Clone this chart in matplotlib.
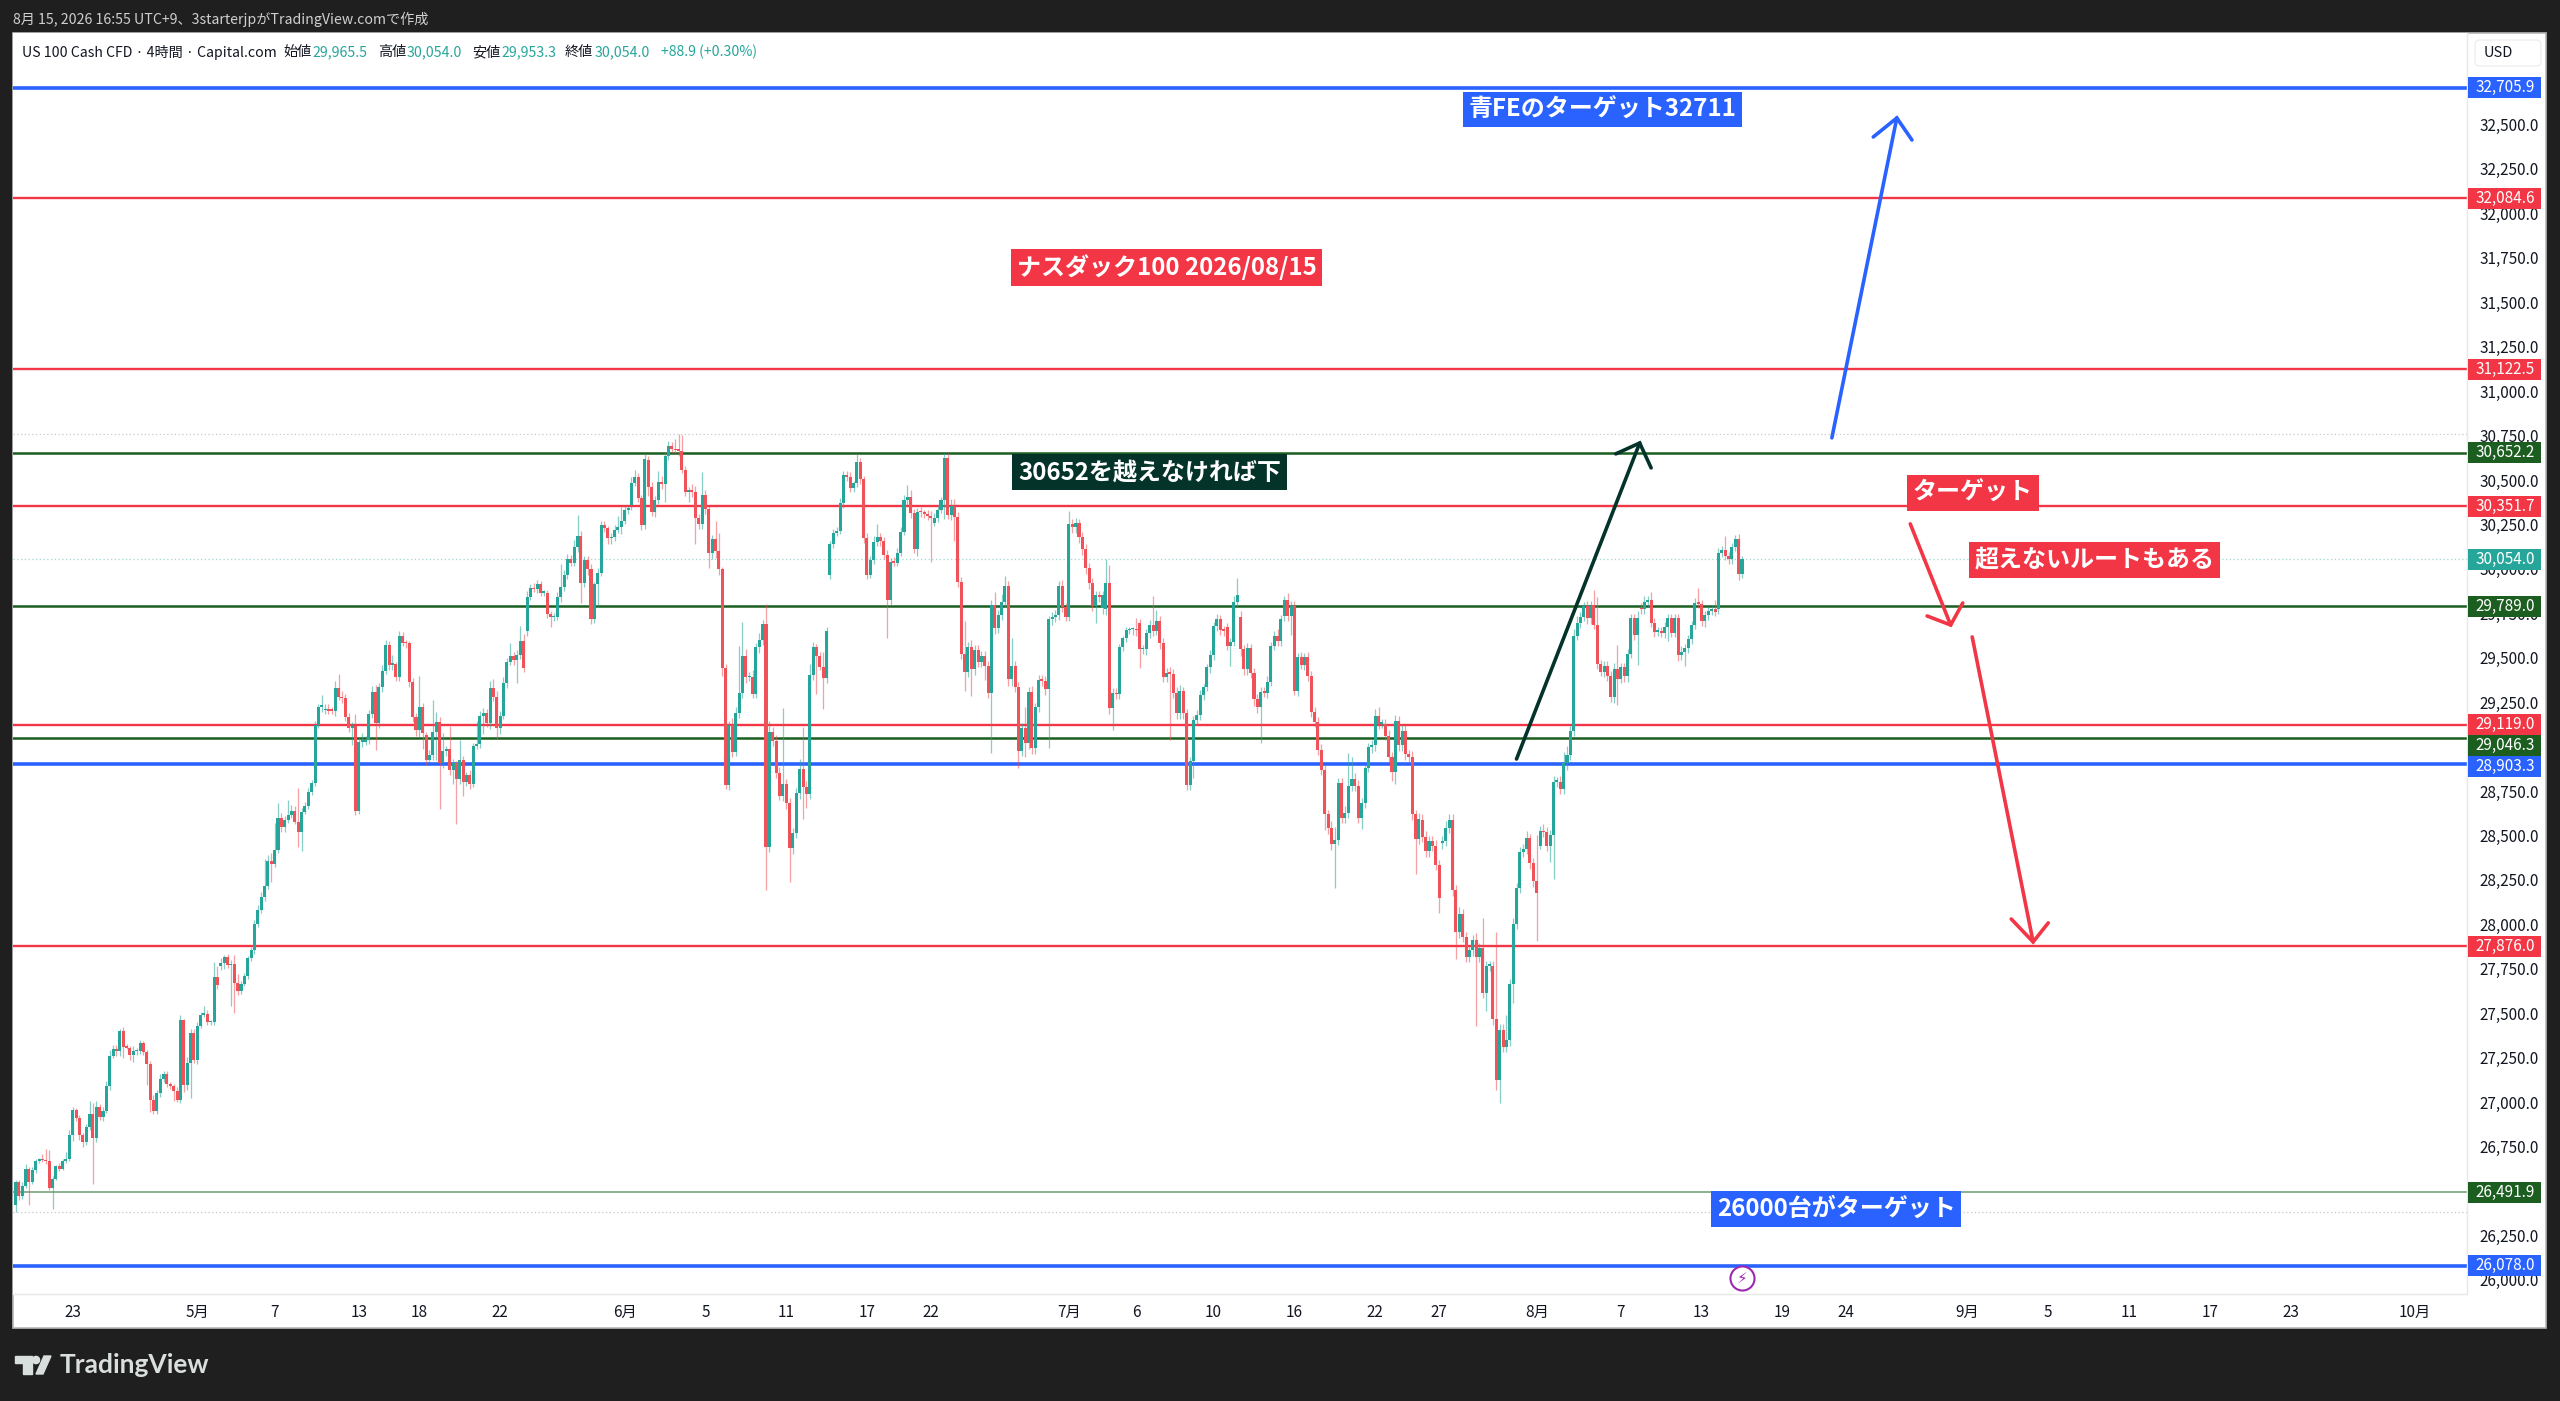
import matplotlib
matplotlib.use('Agg')
from matplotlib import pyplot as plt
from matplotlib.patches import Rectangle, FancyBboxPatch, Polygon, Circle
import numpy as np

plt.rcParams['font.family'] = ['Noto Sans CJK JP', 'DejaVu Sans']

BG = '#1f1f1f'
UP = '#26a69a'
DOWN = '#f0525a'
RED = '#f23645'
BLUE = '#2962ff'
GREEN = '#1b5e20'
DARK = '#04332a'

# 4h closes
closes = [
    26549, 26470, 26529, 26622, 26549, 26618, 26668, 26677, 26673, 26668,
    26515, 26569, 26638, 26626, 26668, 26677, 26812, 26954, 26911, 26812,
    26776, 26859, 26934, 26796, 26974, 26915, 26950, 27093, 27261, 27300,
    27290, 27399, 27310, 27306, 27267, 27287, 27287, 27330, 27281, 27215,
    27014, 26950, 27049, 27128, 27160, 27103, 27089, 27063, 27014, 27459,
    27097, 27221, 27389, 27235, 27429, 27492, 27498, 27449, 27449, 27706,
    27656, 27781, 27815, 27769, 27775, 27670, 27623, 27666, 27710, 27809,
    27854, 28003, 28078, 28151, 28216, 28359, 28340, 28419, 28597, 28546,
    28587, 28616, 28640, 28578, 28522, 28634, 28666, 28747, 28797, 29122,
    29225, 29229, 29210, 29203, 29201, 29328, 29281, 29272, 29169, 29103,
    29116, 28640, 29028, 29028, 29035, 29184, 29309, 29131, 29338, 29428,
    29572, 29460, 29463, 29390, 29623, 29585, 29581, 29366, 29169, 29094,
    29225, 29075, 28925, 28953, 29084, 29141, 28906, 28976, 28985, 28869,
    28906, 28816, 28925, 28803, 28841, 28790, 29004, 29015, 29173, 29188,
    29131, 29328, 29281, 29103, 29173, 29360, 29478, 29510, 29488, 29516,
    29596, 29441, 29844, 29891, 29885, 29915, 29866, 29866, 29746, 29728,
    29731, 29844, 29896, 29966, 30054, 30035, 30122, 30185, 29919, 30050,
    29998, 29716, 29913, 29979, 30247, 30228, 30172, 30180, 30219, 30238,
    30272, 30332, 30335, 30485, 30515, 30397, 30247, 30617, 30463, 30322,
    30388, 30491, 30478, 30635, 30692, 30673, 30669, 30665, 30557, 30435,
    30440, 30435, 30285, 30253, 30416, 30335, 30088, 30167, 30103, 29998,
    29441, 28784, 29122, 28972, 29191, 29304, 29510, 29390, 29390, 29296,
    29559, 29600, 29690, 28437, 29084, 29034, 28854, 28722, 28790, 28681,
    28428, 28512, 28737, 28872, 28775, 28734, 29403, 29559, 29510, 29450,
    29384, 29651, 30140, 30204, 30215, 30369, 30529, 30519, 30453, 30482,
    30604, 30504, 30172, 29966, 30050, 30153, 30178, 30159, 30078, 29825,
    30041, 30035, 30092, 30210, 30388, 30403, 30317, 30110, 30322, 30318,
    30309, 30300, 30285, 30285, 30332, 30388, 30622, 30303, 30354, 30294,
    29928, 29521, 29422, 29559, 29435, 29544, 29478, 29510, 29454, 29304,
    29797, 29666, 29741, 29816, 29904, 29379, 29454, 29338, 28977, 29103,
    29019, 29309, 28991, 29225, 29375, 29371, 29323, 29716, 29731, 29741,
    29906, 29788, 29731, 30253, 30234, 30257, 30178, 30110, 30003, 29919,
    29791, 29853, 29844, 29853, 29923, 29216, 29304, 29296, 29559, 29610,
    29656, 29660, 29660, 29655, 29548, 29548, 29638, 29685, 29653, 29709,
    29581, 29394, 29416, 29409, 29304, 29188, 29315, 29188, 28784, 28921,
    29150, 29178, 29289, 29338, 29446, 29516, 29679, 29716, 29656, 29653,
    29566, 29591, 29816, 29853, 29548, 29435, 29553, 29416, 29266, 29221,
    29309, 29304, 29366, 29566, 29623, 29596, 29716, 29822, 29735, 29790,
    29313, 29504, 29459, 29504, 29396, 29195, 29138, 28982, 28869, 28618,
    28540, 28450, 28475, 28794, 28601, 28626, 28776, 28819, 28781, 28601,
    28681, 28882, 28995, 29007, 29170, 29128, 29128, 29062, 28944, 28857,
    29145, 29007, 29090, 28957, 28944, 28618, 28480, 28594, 28493, 28410,
    28468, 28443, 28335, 28149, 28468, 28543, 28588, 28192, 27954, 28059,
    27929, 27816, 27854, 27909, 27816, 27866, 27615, 27766, 27766, 27465,
    27126, 27407, 27309, 27347, 27665, 28004, 28205, 28405, 28425, 28485,
    28343, 28242, 28175, 28526, 28518, 28443, 28500, 28802, 28802, 28762,
    28907, 28952, 29087, 29622, 29697, 29729, 29790, 29722, 29790, 29684,
    29464, 29421, 29454, 29396, 29278, 29439, 29383, 29446, 29396, 29521,
    29722, 29627, 29722, 29772, 29815, 29822, 29697, 29647, 29647, 29640,
    29672, 29722, 29639, 29722, 29514, 29534, 29554, 29604, 29684, 29810,
    29805, 29704, 29739, 29765, 29772, 29760, 30091, 30106, 30073, 30055,
    30123, 30166, 29973, 30054,
]

# bars that open away from the previous close (bar number: open)
gap_opens = {
    0: 26420, 61: 27765, 92: 29206, 122: 29066, 152: 29653, 183: 30360,
    188: 30613, 242: 29966, 273: 30260, 323: 29778, 324: 29773, 334: 29694,
    360: 29671, 364: 29731, 377: 29735, 417: 28480, 418: 28588, 424: 28455,
    453: 28443, 469: 29797, 483: 29780, 490: 29640, 506: 29772,
}

# wick lengths above the body, in index points
upper_wicks = [
    10, 15, 20, 30, 10, 15, 10, 10, 30, 65, 60, 15, 10, 20, 10, 40, 30, 20, 10, 15,
    15, 20, 70, 60, 30, 15, 20, 25, 30, 20, 20, 10, 25, 15, 10, 30, 15, 20, 15, 10,
    15, 25, 20, 30, 15, 15, 10, 10, 20, 30, 10, 30, 20, 20, 20, 15, 40, 20, 10, 80,
    60, 30, 15, 20, 25, 50, 50, 15, 15, 15, 20, 20, 30, 30, 150, 30, 40, 150, 85, 30,
    20, 85, 30, 25, 190, 20, 25, 20, 15, 20, 15, 60, 30, 30, 20, 40, 80, 30, 25, 20,
    25, 70, 20, 50, 25, 20, 30, 40, 20, 30, 25, 20, 50, 15, 30, 20, 15, 15, 20, 20,
    170, 20, 15, 25, 180, 55, 25, 100, 20, 130, 25, 15, 110, 20, 15, 25, 15, 130, 25, 30,
    25, 40, 55, 30, 25, 30, 20, 75, 25, 30, 80, 40, 30, 25, 30, 20, 15, 15, 15, 15,
    20, 25, 130, 30, 30, 25, 40, 120, 30, 25, 20, 30, 15, 25, 20, 20, 15, 20, 30, 60,
    75, 30, 20, 30, 40, 25, 20, 30, 20, 25, 20, 60, 30, 25, 30, 20, 60, 90, 90, 20,
    20, 40, 30, 25, 130, 30, 20, 25, 100, 100, 15, 25, 20, 40, 30, 260, 190, 40, 30, 40,
    25, 40, 20, 110, 60, 25, 30, 30, 425, 25, 30, 30, 30, 60, 240, 30, 60, 30, 20, 25,
    85, 20, 15, 20, 20, 30, 20, 20, 25, 15, 45, 20, 20, 30, 20, 30, 75, 25, 20, 30,
    20, 25, 25, 25, 30, 70, 40, 20, 20, 25, 15, 20, 25, 30, 30, 15, 30, 30, 40, 40,
    25, 25, 185, 30, 40, 25, 30, 30, 30, 30, 30, 70, 30, 40, 55, 25, 155, 30, 25, 30,
    120, 25, 30, 20, 30, 30, 25, 20, 25, 30, 25, 30, 20, 70, 25, 30, 25, 30, 30, 30,
    30, 25, 25, 25, 130, 100, 25, 25, 20, 15, 15, 15, 15, 65, 25, 25, 25, 30, 160, 60,
    25, 30, 25, 30, 25, 30, 30, 20, 25, 20, 20, 30, 30, 15, 20, 30, 20, 30, 25, 20,
    25, 20, 30, 95, 30, 25, 30, 25, 25, 30, 25, 25, 30, 25, 25, 40, 25, 25, 40, 30,
    30, 25, 30, 25, 30, 30, 25, 30, 30, 30, 25, 40, 75, 30, 30, 40, 190, 125, 30, 30,
    30, 25, 25, 30, 40, 50, 25, 25, 30, 25, 30, 25, 30, 30, 25, 30, 25, 30, 30, 30,
    30, 30, 30, 25, 30, 40, 30, 30, 30, 40, 30, 30, 30, 30, 40, 30, 170, 30, 30, 30,
    490, 30, 30, 145, 30, 30, 25, 30, 25, 40, 25, 30, 260, 30, 40, 30, 30, 30, 25, 30,
    60, 50, 30, 40, 40, 30, 25, 30, 30, 85, 160, 25, 25, 25, 30, 30, 130, 25, 25, 30,
    25, 25, 40, 30, 30, 25, 50, 25, 25, 25, 30, 25, 25, 25, 25, 30, 25, 25, 25, 25,
    80, 20, 25, 25, 25, 50, 25, 25, 80, 20, 20, 25, 30, 20,
]

# wick lengths below the body, in index points
lower_wicks = [
    40, 20, 15, 10, 130, 10, 15, 10, 10, 15, 10, 115, 10, 15, 10, 10, 10, 30, 20, 25,
    30, 20, 15, 255, 20, 15, 20, 10, 25, 15, 30, 30, 60, 10, 30, 40, 20, 15, 15, 120,
    70, 15, 20, 20, 15, 20, 15, 55, 15, 20, 40, 30, 200, 15, 20, 15, 15, 15, 15, 15,
    20, 20, 30, 15, 230, 170, 20, 15, 15, 15, 15, 20, 20, 15, 20, 15, 100, 15, 15, 25,
    25, 15, 15, 15, 85, 110, 15, 15, 20, 20, 15, 30, 20, 20, 20, 30, 20, 25, 25, 20,
    95, 25, 20, 30, 20, 20, 25, 150, 25, 30, 20, 30, 30, 20, 20, 20, 25, 30, 30, 35,
    40, 90, 30, 20, 30, 160, 255, 25, 30, 30, 80, 250, 25, 80, 25, 30, 20, 20, 25, 100,
    20, 30, 25, 60, 30, 20, 30, 20, 30, 130, 25, 20, 30, 20, 15, 20, 20, 20, 20, 55,
    20, 20, 30, 20, 25, 20, 20, 25, 110, 20, 30, 25, 20, 125, 20, 20, 30, 30, 25, 20,
    40, 20, 25, 30, 20, 20, 30, 20, 55, 25, 30, 25, 30, 100, 25, 20, 25, 30, 20, 25,
    60, 30, 145, 30, 30, 25, 85, 30, 40, 30, 45, 25, 30, 30, 25, 30, 30, 30, 20, 25,
    25, 30, 30, 245, 30, 30, 30, 25, 30, 30, 190, 30, 25, 30, 185, 80, 30, 30, 215, 20,
    175, 25, 25, 20, 20, 20, 25, 25, 20, 20, 20, 25, 25, 25, 20, 20, 25, 30, 25, 215,
    30, 20, 20, 20, 20, 30, 30, 20, 40, 25, 25, 25, 245, 20, 20, 20, 105, 25, 30, 140,
    30, 30, 110, 30, 150, 30, 30, 30, 80, 30, 340, 30, 25, 30, 30, 40, 40, 30, 100, 30,
    75, 30, 30, 30, 30, 30, 30, 330, 30, 30, 30, 30, 25, 25, 30, 30, 30, 30, 30, 30,
    30, 95, 30, 30, 30, 30, 120, 30, 30, 20, 20, 20, 30, 30, 105, 25, 30, 25, 30, 25,
    30, 30, 30, 370, 30, 30, 30, 30, 30, 30, 95, 30, 30, 25, 25, 30, 30, 30, 30, 30,
    25, 110, 25, 30, 40, 30, 30, 30, 40, 30, 200, 25, 30, 25, 25, 30, 30, 30, 30, 105,
    25, 30, 25, 30, 25, 30, 30, 30, 30, 85, 30, 30, 245, 30, 30, 30, 30, 25, 30, 30,
    65, 25, 25, 30, 30, 30, 25, 25, 30, 50, 70, 30, 30, 30, 30, 30, 195, 30, 30, 30,
    30, 30, 30, 85, 30, 30, 30, 30, 150, 30, 30, 30, 30, 30, 390, 30, 30, 100, 30, 30,
    60, 130, 30, 30, 30, 110, 30, 30, 25, 30, 30, 30, 270, 20, 25, 30, 90, 245, 30, 30,
    30, 40, 25, 25, 25, 30, 25, 30, 30, 25, 30, 25, 30, 25, 25, 30, 150, 25, 30, 30,
    25, 25, 170, 25, 25, 30, 25, 30, 25, 25, 30, 80, 25, 25, 30, 25, 80, 25, 25, 25,
    25, 25, 30, 25, 25, 25, 25, 25, 25, 25, 25, 25, 38, 25,
]

tick_bars = [17, 54, 77, 102, 120, 144, 181, 205, 229, 253, 272, 313, 333, 356,
             380, 404, 423, 452, 477, 501, 525, 544, 580, 604, 628, 652, 676, 713]
tick_labels = ['23', '5月', '7', '13', '18', '22', '6月', '5', '11', '17', '22', '7月',
               '6', '10', '16', '22', '27', '8月', '7', '13', '19', '24', '9月', '5',
               '11', '17', '23', '10月']
price_ticks = list(range(26000, 32750, 250))

red_levels = [32084.6, 31122.5, 30351.7, 29119.0, 27876.0]
green_levels = [30652.2, 29789.0, 29046.3]
thin_green_levels = [26491.9]
blue_levels = [32705.9, 28903.3, 26078.0]
dotted_levels = [30760, 26382]
last_price = 30054.0

note_texts = ['青FEのターゲット32711', 'ナスダック100 2026/08/15', '30652を越えなければ下',
              'ターゲット', '超えないルートもある', '26000台がターゲット']
note_bars = [471.5, 342, 337, 581.6, 617.7, 541]
note_prices = [32585, 31696, 30545, 30427, 30050, 26399]
note_colors = [BLUE, RED, DARK, RED, RED, BLUE]

# hand drawn arrows: shaft from/to, then the two barbs, as (bar, price)
arrows = [
    (DARK, (446, 28930), (482.6, 30708), (475.5, 30647), (486, 30568)),
    (BLUE, (539.7, 30737), (559, 32537), (552, 32430), (563.5, 32413)),
    (RED, (563, 30253), (575, 29684), (568, 29735), (578.6, 29808)),
    (RED, (581.4, 29617), (599.5, 27901), (593, 28030), (604, 28008)),
]

W, H = 2560, 1401
fig = plt.figure(figsize=(W / 100, H / 100), dpi=100, facecolor=BG)


def fx(x):
    return x / W


def fy(y):
    return 1 - y / H


# page layer: white chart card, USD box, logo
page = fig.add_axes([0, 0, 1, 1], zorder=0)
page.set_xlim(0, W)
page.set_ylim(H, 0)
page.axis('off')
page.add_patch(Rectangle((13, 33), 2533, 1295, facecolor='white', edgecolor='#b8b8b8', lw=1.2))
page.add_patch(FancyBboxPatch((2475, 40), 66, 26, boxstyle='round,pad=0,rounding_size=5',
                              facecolor='white', edgecolor='#eeeeee', lw=1))
logo = '#d9dfdc'
page.add_patch(Polygon([(15, 1356), (32, 1356), (32, 1374), (23, 1374), (23, 1363), (15, 1363)], color=logo))
page.add_patch(Circle((36, 1360), 3.6, color=logo))
page.add_patch(Polygon([(44, 1356), (51, 1356), (43, 1374), (36, 1374)], color=logo))

# chart
ax = fig.add_axes([fx(13), fy(1294), (2467 - 13) / W, (1294 - 33) / H], zorder=1, facecolor='white')
bar_step = (1742 - 15.5) / (len(closes) - 1)
ax.set_xlim((13 - 15.5) / bar_step, (2467 - 15.5) / bar_step)
ax.set_ylim(25920, 33015)

closes_arr = np.array(closes, dtype=float)
opens_arr = np.r_[closes_arr[0], closes_arr[:-1]]
for bar, value in gap_opens.items():
    opens_arr[bar] = value
tops = np.maximum(opens_arr, closes_arr)
bottoms = np.minimum(opens_arr, closes_arr)
highs = tops + np.array(upper_wicks)
lows = bottoms - np.array(lower_wicks)
colors = [UP if c >= o else DOWN for o, c in zip(opens_arr, closes_arr)]
xs = np.arange(len(closes))

for level in dotted_levels:
    ax.axhline(level, color='#c4c8cc', lw=0.9, ls=(0, (1, 2)), zorder=1)
ax.axhline(last_price, color='#9fd8d2', lw=0.9, ls=(0, (1, 2)), zorder=1)
for level in thin_green_levels:
    ax.axhline(level, color='#6f9b74', lw=1.1, zorder=2)
for level in red_levels:
    ax.axhline(level, color=RED, lw=1.7, zorder=2)
for level in green_levels:
    ax.axhline(level, color=GREEN, lw=1.8, zorder=2)
for level in blue_levels:
    ax.axhline(level, color=BLUE, lw=2.6, zorder=2)

ax.vlines(xs, lows, highs, colors=colors, lw=0.9, alpha=0.55, zorder=3)
ax.bar(xs, np.maximum(tops - bottoms, 8), bottom=bottoms, width=0.9, color=colors, lw=0, zorder=4)

for color, start, tip, barb1, barb2 in arrows:
    ax.plot(*zip(start, tip), color=color, lw=2.6, solid_capstyle='round', zorder=5)
    ax.plot(*zip(barb1, tip, barb2), color=color, lw=2.6, solid_capstyle='round',
            solid_joinstyle='miter', zorder=5)

for text, bar, price, color in zip(note_texts, note_bars, note_prices, note_colors):
    ax.text(bar, price, text, color='white', fontsize=17.3, fontweight='bold', ha='center', va='center',
            bbox=dict(boxstyle='square,pad=0.24', facecolor=color, edgecolor='none'), zorder=6)

for side in ['top', 'left']:
    ax.spines[side].set_visible(False)
for side in ['right', 'bottom']:
    ax.spines[side].set_color('#e8e8e8')
    ax.spines[side].set_linewidth(1)

ax.set_xticks(tick_bars)
ax.set_xticklabels(tick_labels)
ax.set_yticks(price_ticks)
ax.set_yticklabels([f'{p:,.1f}' for p in price_ticks])
ax.yaxis.tick_right()
ax.tick_params(axis='y', length=0, pad=9, labelsize=11, labelcolor='#131722')
ax.tick_params(axis='x', length=0, pad=7, labelsize=11, labelcolor='#131722')

# price tags on the axis; the three close ones are pushed apart as on the chart
tag_prices = blue_levels + red_levels + green_levels + thin_green_levels + [last_price]
tag_colors = [BLUE] * 3 + [RED] * 5 + [GREEN] * 3 + [GREEN] + [UP]
tag_shown_at = {29119.0: 29122, 29046.3: 29004, 28903.3: 28886}
tag_trans = ax.get_yaxis_transform()
for price, color in zip(tag_prices, tag_colors):
    shown = tag_shown_at.get(price, price)
    ax.add_patch(Rectangle((1.0003, shown - 59), 73 / 2454, 118, transform=tag_trans, facecolor=color,
                           edgecolor='none', clip_on=False, zorder=7))
    ax.text((2505 - 13) / 2454, shown, f'{price:,.1f}', transform=tag_trans, color='white', fontsize=11,
            ha='center', va='center', clip_on=False, zorder=8)

# alert marker under the last bar
ax.scatter([len(closes) - 1], [26010], s=300, facecolor='white', edgecolor='#9c27b0', lw=1.5, zorder=6)
ax.text(len(closes) - 1, 26010, '⚡', family='DejaVu Sans', color='#9c27b0', fontsize=11,
        ha='center', va='center', zorder=7)

# header and legend row
fig.text(fx(13), fy(19), '8月 15, 2026 16:55 UTC+9、3starterjpがTradingView.comで作成',
         color='#cfcfcf', fontsize=10.2, va='center')
legend_items = [
    (22, 'US 100 Cash CFD · 4時間 · Capital.com', '#131722'),
    (283, '始値', '#131722'), (312, '29,965.5', UP),
    (378, '高値', '#131722'), (407, '30,054.0', UP),
    (472, '安値', '#131722'), (501, '29,953.3', UP),
    (565, '終値', '#131722'), (595, '30,054.0', UP),
    (661, '+88.9 (+0.30%)', UP),
]
for x, text, color in legend_items:
    fig.text(fx(x), fy(52), text, color=color, fontsize=10.2, va='center')
fig.text(fx(2484), fy(53), 'USD', color='#131722', fontsize=10.5, va='center')
fig.text(fx(60), fy(1365), 'TradingView', color=logo, fontsize=19, fontweight='bold', va='center',
         family=['Lato', 'DejaVu Sans'])

fig.savefig('out.png', dpi=100, facecolor=BG)
